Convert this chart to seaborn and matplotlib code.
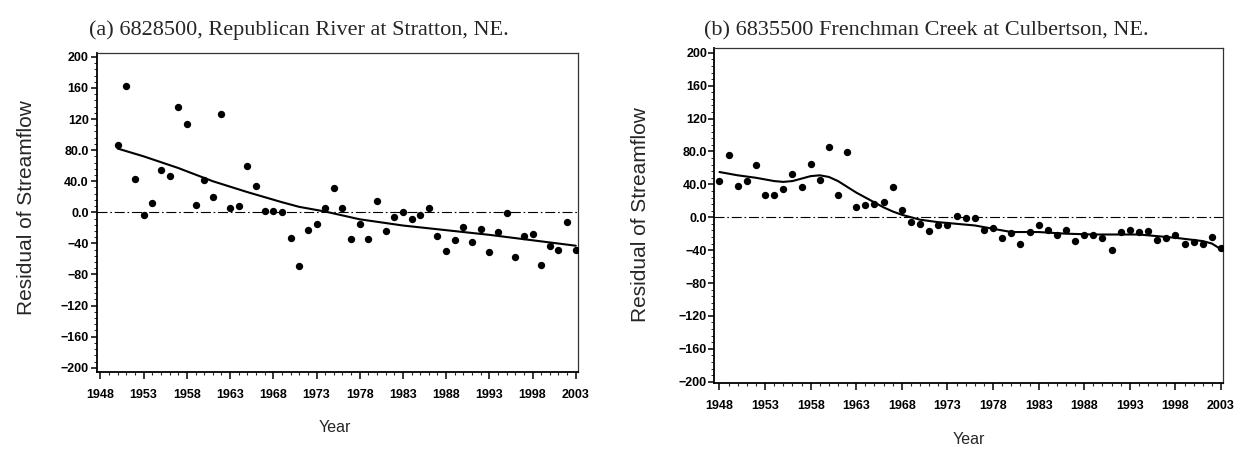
"""
Residual of streamflow plots for two Nebraska gauges.
"""
import matplotlib
matplotlib.use("Agg")
import matplotlib.pyplot as plt
from matplotlib.ticker import MultipleLocator
import seaborn as sns
import pandas as pd

# (a) 6828500 Republican River at Stratton
years_a = list(range(1950, 2004))
resid_a = [86, 163, 43, -4, 12, 54, 47, 136, 114, 9,
           41, 20, 127, 6, 8, 60, 34, 2, 2, 0,
           -33, -69, -23, -15, 5, 31, 6, -34, -15, -34,
           14, -24, -6, 0, -8, -3, 5, -31, -50, -36,
           -19, -38, -22, -51, -25, -1, -57, -30, -28, -68,
           -44, -49, -13, -48]
trend_years_a = [1950, 1953, 1957, 1961, 1965, 1969, 1971, 1974, 1978, 1983, 1988, 1993, 1998, 2003]
trend_a = [82, 72, 57, 40, 26, 13, 7, 1, -9, -17, -23, -29, -36, -43]

# (b) 6835500 Frenchman Creek at Culbertson
years_b = list(range(1948, 2004))
resid_b = [44, 76, 38, 44, 64, 27, 27, 34, 53, 37,
           65, 45, 85, 27, 79, 13, 15, 16, 18, 37,
           9, -6, -8, -17, -9, -10, 2, -1, -1, -15,
           -13, -25, -19, -33, -18, -10, -16, -22, -15, -29,
           -21, -21, -25, -40, -18, -15, -18, -17, -28, -25,
           -21, -32, -30, -32, -24, -37]
trend_years_b = [1948, 1950, 1952, 1954, 1955, 1956, 1957, 1958, 1959, 1960, 1961, 1962,
                 1963, 1964, 1965, 1966, 1967, 1968, 1969, 1970, 1972, 1974, 1976, 1978,
                 1980, 1983, 1986, 1989, 1994, 1998, 2001, 2002, 2003]
trend_b = [55, 51, 48, 44, 43, 44, 47, 50, 51, 49, 44, 37,
           30, 24, 18, 12, 7, 3, 0, -3, -6, -8, -10, -14,
           -18, -18, -20, -21, -21, -25, -29, -32, -39]

ytick_vals = [-200, -160, -120, -80, -40, 0, 40, 80, 120, 160, 200]
ytick_labels = ["\u2212200", "\u2212160", "\u2212120", "\u221280", "\u221240",
                "0.0", "40.0", "80.0", "120", "160", "200"]
xtick_vals = list(range(1948, 2004, 5))

sns.set_theme(style="ticks")
sans = ["Liberation Sans Narrow", "Liberation Sans", "DejaVu Sans"]
plt.rcParams["font.family"] = sans

W, H = 1254, 454
fig = plt.figure(figsize=(W / 100, H / 100), dpi=100)


def box(l, r, t, b):
    return [l / W, 1 - b / H, (r - l) / W, (b - t) / H]


def panel(ax, years, resid, ty, tr, xlim, ylim, ypad):
    df = pd.DataFrame({"year": years, "resid": resid})
    tdf = pd.DataFrame({"year": ty, "trend": tr})
    ax.axhline(0, color="black", lw=0.8, ls=(0, (9, 2.5, 1.5, 2.5)), zorder=1)
    sns.lineplot(data=tdf, x="year", y="trend", color="black", lw=1.5, ax=ax, zorder=2)
    sns.scatterplot(data=df, x="year", y="resid", color="black", s=28,
                    linewidth=0, ax=ax, zorder=3)
    ax.set_xlim(*xlim)
    ax.set_ylim(*ylim)
    ax.set_xticks(xtick_vals)
    ax.set_xticklabels([str(v) for v in xtick_vals], fontsize=9, fontweight="bold")
    ax.set_yticks(ytick_vals)
    ax.set_yticklabels(ytick_labels, fontsize=9, fontweight="bold")
    ax.xaxis.set_minor_locator(MultipleLocator(1))
    ax.yaxis.set_minor_locator(MultipleLocator(8))
    ax.tick_params(axis="x", which="major", length=5, width=1.1, pad=7, colors="black")
    ax.tick_params(axis="x", which="minor", length=2.5, width=0.8)
    ax.tick_params(axis="y", which="major", length=4, width=1.1, pad=ypad, colors="black")
    ax.tick_params(axis="y", which="minor", length=2, width=0.7)
    ax.set_xlabel("")
    ax.set_ylabel("")
    for side in ["left", "bottom"]:
        ax.spines[side].set_linewidth(1.3)
        ax.spines[side].set_color("black")
    for side in ["top", "right"]:
        ax.spines[side].set_linewidth(0.9)
        ax.spines[side].set_color("#333333")


ax_a = fig.add_axes(box(97, 577.5, 53, 372))
panel(ax_a, years_a, resid_a, trend_years_a, trend_a, (1947.6, 2003.2), (-205.5, 205), 2)

ax_b = fig.add_axes(box(714, 1223.3, 48.3, 383.3))
panel(ax_b, years_b, resid_b, trend_years_b, trend_b, (1947.4, 2003.25), (-202, 205.5), 1)

serif = ["Liberation Serif", "DejaVu Serif"]
fig.text(298.7 / W, 1 - 35 / H, "(a) 6828500, Republican River at Stratton, NE.",
         ha="center", va="baseline", fontsize=16, family=serif)
fig.text(926 / W, 1 - 35 / H, "(b) 6835500 Frenchman Creek at Culbertson, NE.",
         ha="center", va="baseline", fontsize=16, family=serif)

fig.text(27 / W, 1 - 208 / H, "Residual of Streamflow", rotation=90,
         ha="center", va="center", fontsize=15)
fig.text(640 / W, 1 - 215 / H, "Residual of Streamflow", rotation=90,
         ha="center", va="center", fontsize=15)
fig.text(335 / W, 1 - 428 / H, "Year", ha="center", va="center", fontsize=11.5)
fig.text(969 / W, 1 - 439 / H, "Year", ha="center", va="center", fontsize=11.5)

plt.savefig("out.png", dpi=100)
plt.close()
